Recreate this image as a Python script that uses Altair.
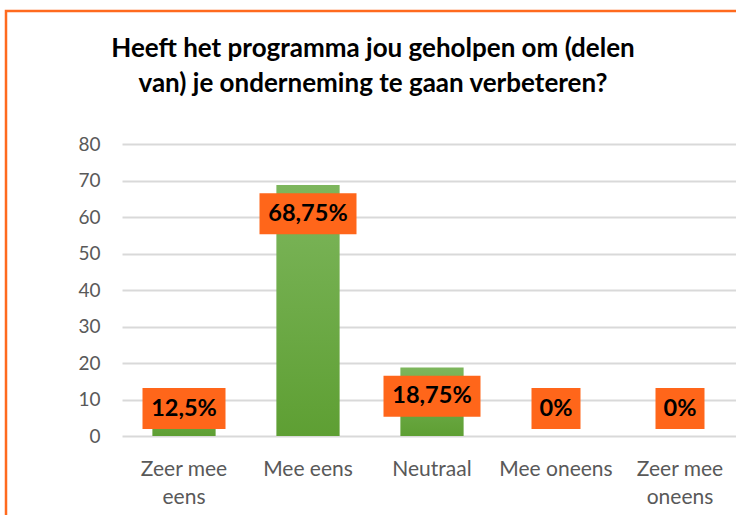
import altair as alt
import pandas as pd

categories = ["Zeer mee eens", "Mee eens", "Neutraal", "Mee oneens", "Zeer mee oneens"]
values = [12.5, 68.75, 18.75, 0, 0]
labels = ["12,5%", "68,75%", "18,75%", "0%", "0%"]
y_ticks = [0, 10, 20, 30, 40, 50, 60, 70, 80]

title_lines = ["Heeft het programma jou geholpen om (delen", "van) je onderneming te gaan verbeteren?"]

df = pd.DataFrame({"cat": categories, "value": values, "label": labels})
# label box placement: "inside end", clamped near the axis
df["center"] = [max(v - 7.85, 7.53) for v in values]
df["lo"] = df["center"] - 5.6
df["hi"] = df["center"] + 5.6
df["w"] = [14 * sum(c.isdigit() for c in s) + 6 * s.count(",") + 35 for s in labels]

FONT = "Lato"

xscale = alt.Scale(domain=categories, range=[0, 620], paddingInner=0.49, paddingOuter=0.245)
yscale = alt.Scale(domain=[0, 80])

label_expr = ("datum.value == 'Zeer mee eens' ? ['Zeer mee', 'eens'] : "
              "datum.value == 'Zeer mee oneens' ? ['Zeer mee', 'oneens'] : datum.value")

x_axis = alt.Axis(labelAngle=0, labelExpr=label_expr, labelFontSize=21,
                  labelColor="#595959", labelFont=FONT, labelLineHeight=28,
                  labelPadding=22, domain=False, ticks=False, labelBaseline="top",
                  labelOverlap=False, grid=False, title=None)
y_axis = alt.Axis(values=y_ticks, labelFontSize=19, labelColor="#595959",
                  labelFont=FONT, labelPadding=22, domain=False, ticks=False,
                  gridColor="#D9D9D9", gridWidth=1.8, labelOverlap=False, title=None)


def xe():
    return alt.X("cat:N", scale=xscale, sort=categories, axis=x_axis, title=None)


base = alt.Chart(df)

bars = base.mark_bar(
    color=alt.Gradient(
        gradient="linear",
        stops=[alt.GradientStop(color="#7DB65C", offset=0),
               alt.GradientStop(color="#5E9F33", offset=1)],
        x1=0, x2=0, y1=0, y2=1,
    )
).encode(
    x=xe(),
    y=alt.Y("value:Q", scale=yscale, axis=y_axis, title=None),
)

boxes = base.mark_bar(color="#FF661A").encode(
    x=xe(),
    y=alt.Y("lo:Q", scale=yscale, axis=y_axis, title=None),
    y2="hi:Q",
    size=alt.Size("w:Q", scale=None, legend=None),
)

texts = base.mark_text(font=FONT, fontWeight="bold", fontSize=23.5, color="#000000",
                       baseline="middle").encode(
    x=xe(),
    y=alt.Y("center:Q", scale=yscale, axis=y_axis, title=None),
    text="label:N",
)

deco = alt.Chart(pd.DataFrame({"k": [0]}))

border = deco.mark_rect(
    fill=None, stroke="#FF6A1E", strokeWidth=2.5
).encode(x=alt.value(-116), x2=alt.value(640), y=alt.value(-133), y2=alt.value(420))

title = deco.mark_text(font=FONT, fontWeight="bold", fontSize=26, color="#000000",
                       baseline="alphabetic", align="center", lineHeight=35).encode(
    x=alt.value(251), y=alt.value(-87.3), text=alt.value(title_lines))

chart = alt.layer(border, title, bars, boxes, texts).properties(
    width=614, height=292,
    autosize=alt.AutoSizeParams(type="none"),
    padding={"left": 122, "top": 144, "right": 0, "bottom": 79},
    background="white",
).configure_view(stroke=None)

chart.save("out.html", embed_options={"renderer": "svg", "actions": False})
